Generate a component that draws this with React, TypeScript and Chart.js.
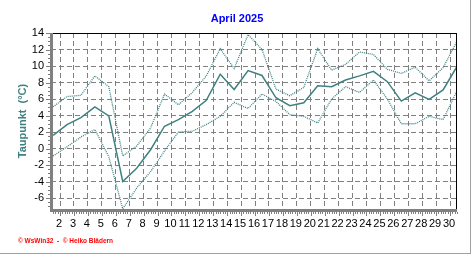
import React, { useEffect, useRef } from "react";
import { Chart, registerables } from "chart.js";

Chart.register(...registerables);

// ---- data ----
const TITLE = "April 2025";
const Y_LABEL = "Taupunkt  (°C)";
const FOOTER = "© WsWin32  -  © Heiko Blädern";

const days = [1, 2, 3, 4, 5, 6, 7, 8, 9, 10, 11, 12, 13, 14, 15, 16, 17, 18, 19, 20, 21, 22, 23, 24, 25, 26, 27, 28, 29, 30];

// daily mean dew point (°C)
const dewPoint = [1.6, 2.9, 3.75, 5.05, 3.95, -4.0, -2.4, -0.15, 2.7, 3.5, 4.5, 5.85, 9.0, 7.15, 9.45, 8.85, 6.15, 5.2, 5.55, 7.6, 7.5, 8.3, 8.8, 9.35, 8.1, 5.75, 6.75, 5.95, 7.1, 9.95];
// daily maximum dew point (°C)
const dewPointMax = [5.05, 6.3, 6.45, 8.8, 7.5, -0.9, 0.3, 2.5, 6.6, 5.3, 6.8, 8.8, 12.1, 9.7, 13.8, 12.0, 7.2, 6.4, 7.4, 12.1, 9.5, 10.2, 11.7, 11.4, 9.6, 9.1, 9.85, 8.2, 9.8, 13.0];
// daily minimum dew point (°C)
const dewPointMin = [-0.9, 0.2, 1.4, 2.3, -1.0, -7.3, -4.8, -2.8, -0.3, 2.0, 2.1, 2.9, 3.9, 5.6, 4.85, 6.6, 5.7, 4.1, 3.9, 3.1, 6.0, 7.5, 6.8, 8.3, 6.0, 3.0, 3.0, 3.9, 3.5, 7.0];

const xTicks = [2, 3, 4, 5, 6, 7, 8, 9, 10, 11, 12, 13, 14, 15, 16, 17, 18, 19, 20, 21, 22, 23, 24, 25, 26, 27, 28, 29, 30];
const yTicks = [-6, -4, -2, 0, 2, 4, 6, 8, 10, 12, 14];

// ---- styles ----
const TEAL = "#3f8080";
const GRID = "#808080";
const FONT = '"Liberation Sans", Arial, sans-serif';

const decor = {
  id: "decor",
  afterDraw(chart: any) {
    const { ctx, chartArea, scales } = chart;
    const { left, right, top, bottom } = chartArea;
    ctx.save();

    // black frame on top & right
    ctx.fillStyle = "#000000";
    ctx.fillRect(left, top, right - left, 1);
    ctx.fillRect(right - 1, top, 1, bottom - top);

    // gray axis bands
    ctx.fillStyle = "#808080";
    ctx.fillRect(left - 1, top, 3, bottom - top + 3);
    ctx.fillRect(left - 1, bottom, right - left + 1, 3);

    // left minor ticks
    const ys = scales.y;
    for (let v = Math.ceil(ys.min * 2) / 2; v <= ys.max; v += 0.5) {
      const py = Math.round(ys.getPixelForValue(v));
      const major = Math.abs(v % 2) < 1e-6;
      const len = major ? 4 : 2;
      ctx.fillRect(left - 1 - len, py, len, 1);
    }
    // bottom minor ticks
    const xs = scales.x;
    for (let k = Math.ceil(xs.min * 6); k <= xs.max * 6; k++) {
      const v = k / 6;
      const px = Math.round(xs.getPixelForValue(v));
      const major = k % 6 === 0;
      const len = major ? 4 : 2;
      ctx.fillRect(px, bottom + 3, 1, len);
    }

    // title
    ctx.fillStyle = "#0000ff";
    ctx.font = `bold 11px ${FONT}`;
    ctx.textAlign = "center";
    ctx.textBaseline = "middle";
    ctx.fillText(TITLE, 237, 19);

    // footer
    ctx.fillStyle = "#ff0000";
    ctx.font = `bold 7px ${FONT}`;
    ctx.textAlign = "left";
    const w = ctx.measureText(FOOTER).width;
    const target = 95;
    ctx.translate(18, 241);
    ctx.scale(target / w, 1);
    ctx.fillText(FOOTER, 0, 0);
    ctx.setTransform(1, 0, 0, 1, 0, 0);

    // page border (right & bottom)
    ctx.fillStyle = "#a0a0a0";
    ctx.fillRect(470, 0, 1, 254);
    ctx.fillRect(0, 253, 471, 1);

    ctx.restore();
  },
};

export default function App() {
  const ref = useRef<HTMLCanvasElement>(null);

  useEffect(() => {
    const canvas = ref.current;
    if (!canvas) return;
    const mk = (label: string, values: number[], dotted: boolean) => ({
      label,
      data: days.map((d, i) => ({ x: d + 0.5, y: values[i] })),
      borderColor: TEAL,
      backgroundColor: TEAL,
      borderWidth: dotted ? 1.3 : 1.5,
      borderDash: dotted ? [1, 1] : [],
      pointRadius: 0,
      fill: false,
      tension: 0,
    });

    const chart = new Chart(canvas, {
      type: "line",
      data: {
        datasets: [
          mk("Maximum", dewPointMax, true),
          mk("Minimum", dewPointMin, true),
          mk("Taupunkt", dewPoint, false),
        ],
      },
      options: {
        animation: false,
        responsive: false,
        devicePixelRatio: 1,
        layout: { padding: { top: 33, right: 15, bottom: 0, left: 0 } },
        plugins: {
          legend: { display: false },
          tooltip: { enabled: false },
          title: { display: false },
        },
        scales: {
          x: {
            type: "linear",
            min: 1.35,
            max: 30.5,
            afterBuildTicks: (s: any) => {
              s.ticks = xTicks.map((v) => ({ value: v }));
            },
            afterFit: (s: any) => {
              s.height = 46;
            },
            grid: { color: GRID, lineWidth: 1, drawTicks: false },
            border: { display: false, dash: [5, 3] },
            ticks: {
              autoSkip: false,
              maxRotation: 0,
              minRotation: 0,
              padding: 8,
              labelOffset: -1,
              color: "#000000",
              font: { family: FONT, size: 11 },
              callback: (v: any) => String(v),
            },
          },
          y: {
            type: "linear",
            min: -7.33,
            max: 14,
            afterBuildTicks: (s: any) => {
              s.ticks = yTicks.map((v) => ({ value: v }));
            },
            afterFit: (s: any) => {
              s.width = 51;
            },
            grid: { color: GRID, lineWidth: 1, drawTicks: false },
            border: { display: false, dash: [5, 3] },
            ticks: {
              padding: 7,
              color: "#000000",
              font: { family: FONT, size: 11 },
              callback: (v: any) => String(v),
            },
            title: {
              display: true,
              text: Y_LABEL,
              color: TEAL,
              font: { family: FONT, size: 11, weight: "bold" },
              padding: { top: 16, bottom: 0 },
            },
          },
        },
      } as any,
      plugins: [decor],
    });
    return () => chart.destroy();
  }, []);

  return (
    <div style={{ position: "fixed", left: 0, top: 0, width: 472, height: 255, background: "#ffffff" }}>
      <canvas ref={ref} width={472} height={255} style={{ display: "block", width: 472, height: 255 }} />
    </div>
  );
}
